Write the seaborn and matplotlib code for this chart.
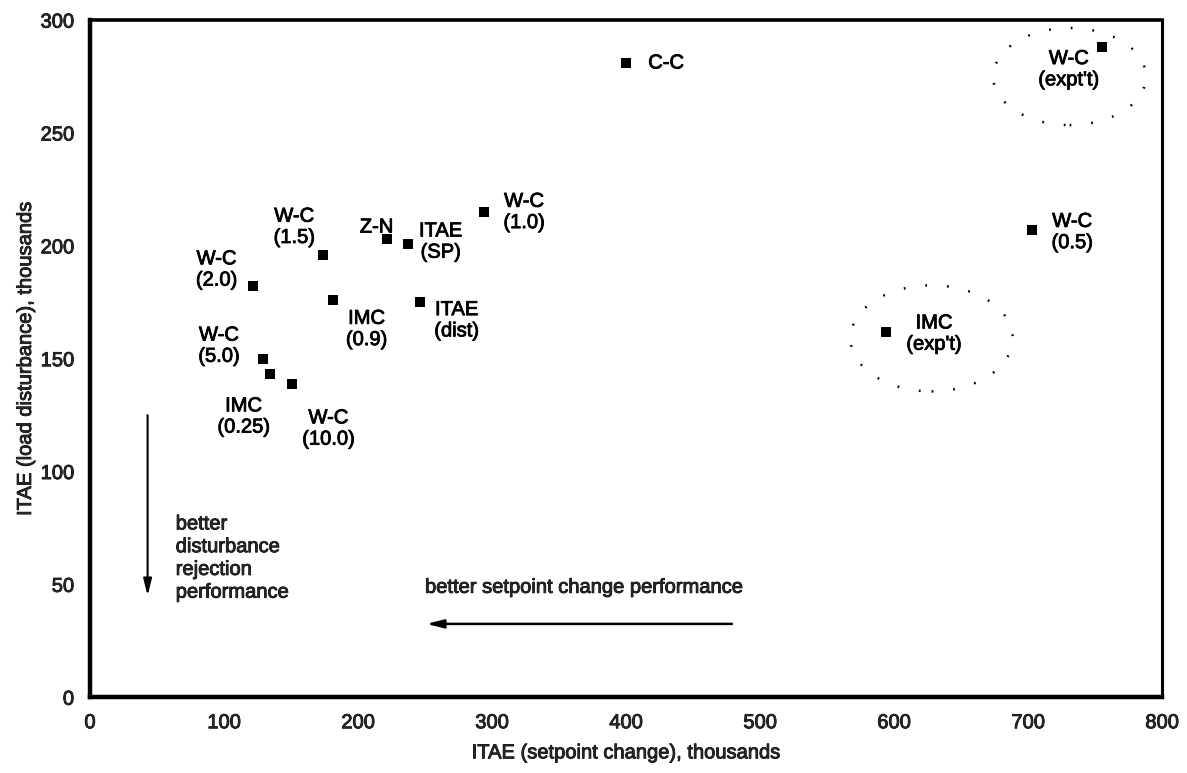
import matplotlib
matplotlib.use("Agg")
import matplotlib.pyplot as plt
import matplotlib.patheffects as pe
from matplotlib.patches import Ellipse
import numpy as np
import pandas as pd
import seaborn as sns

# Controller tuning results: ITAE for setpoint change vs. load disturbance (thousands)
names = ["W-C\n(2.0)", "W-C\n(1.5)", "Z-N", "ITAE\n(SP)", "W-C\n(1.0)",
         "IMC\n(0.9)", "ITAE\n(dist)", "W-C\n(5.0)", "IMC\n(0.25)", "W-C\n(10.0)",
         "C-C", "W-C\n(expt't)", "W-C\n(0.5)", "IMC\n(exp't)"]
itae_setpoint = [122, 174, 222, 237, 294, 181, 246, 129, 134, 151, 400, 755, 703, 594]
itae_load = [182, 196, 203, 201, 215, 176, 175, 150, 143, 139, 281, 288, 207, 162]

x_ticks = [0, 100, 200, 300, 400, 500, 600, 700, 800]
y_ticks = [0, 50, 100, 150, 200, 250, 300]

# label offsets (pixels) relative to each point
label_offsets = [(-37, 17), (-29, 28), (-11, 12), (33, 2), (40, 0),
                 (34, -29), (37, -18), (-44, 13), (-26, -42), (36, -45),
                 (40, 0), (-33, -22), (40, -2), (48, -2)]

sns.set_style("white")
plt.rcParams["font.family"] = ["Liberation Sans", "DejaVu Sans"]

FS = 14.5
ink = [pe.withStroke(linewidth=0.6, foreground="black")]

fig = plt.figure(figsize=(11.87, 7.73), dpi=100)
ax = fig.add_axes([0.0758, 0.098, 0.979 - 0.0758, 0.974 - 0.098])

df = pd.DataFrame({"sp": itae_setpoint, "load": itae_load, "name": names})
sns.scatterplot(data=df, x="sp", y="load", marker="s", s=58, color="black",
                edgecolor="black", linewidth=0, ax=ax, zorder=3)

for name, xv, yv, off in zip(names, itae_setpoint, itae_load, label_offsets):
    ax.annotate(name, (xv, yv), xytext=off, textcoords="offset pixels",
                ha="center", va="center", multialignment="center",
                fontsize=FS, color="black", linespacing=1.15, path_effects=ink)

# dotted rings around the experimental tunings
for cx, cy, w, h in [(731, 275, 114, 43), (628, 159, 121, 47)]:
    ax.add_patch(Ellipse((cx, cy), w, h, fill=False, edgecolor="black",
                         linewidth=1.8, linestyle=(0, (0.7, 8)), zorder=2))

# direction arrows
ax.annotate("", xy=(43, 45), xytext=(43, 125),
            arrowprops=dict(arrowstyle="-|>,head_length=1.0,head_width=0.25",
                            color="black", lw=1.5, shrinkA=0, shrinkB=0))
ax.text(64, 81, "better\ndisturbance\nrejection\nperformance", ha="left", va="top",
        fontsize=FS, linespacing=1.25, path_effects=ink)
ax.annotate("", xy=(251, 32.5), xytext=(479, 32.5),
            arrowprops=dict(arrowstyle="-|>,head_length=1.0,head_width=0.25",
                            color="black", lw=1.8, shrinkA=0, shrinkB=0))
ax.text(250, 48.7, "better setpoint change performance", ha="left", va="center",
        fontsize=FS, path_effects=ink)

ax.set_xlim(0, 800)
ax.set_ylim(0, 300)
ax.set_xticks(x_ticks)
ax.set_yticks(y_ticks)
ax.tick_params(direction="inout", length=5, width=1, labelsize=FS, pad=9)
for lab in ax.get_xticklabels() + ax.get_yticklabels():
    lab.set_path_effects(ink)
ax.set_xlabel("ITAE (setpoint change), thousands", fontsize=FS, labelpad=8,
              path_effects=ink)
ax.set_ylabel("ITAE (load disturbance), thousands", fontsize=FS, labelpad=4,
              path_effects=ink)

for side, lw in [("left", 3.2), ("bottom", 3.2), ("top", 2.6), ("right", 2.2)]:
    ax.spines[side].set_visible(True)
    ax.spines[side].set_linewidth(lw)
    ax.spines[side].set_color("black")

fig.savefig("out.png", dpi=100, facecolor="white")
